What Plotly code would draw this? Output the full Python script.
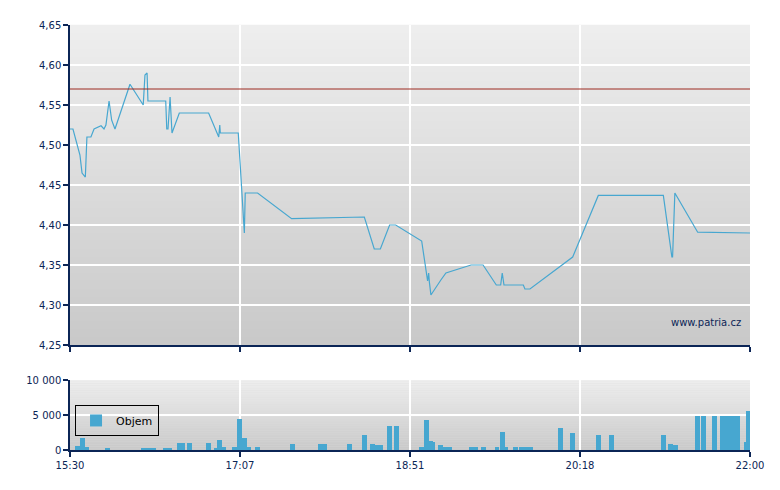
import plotly.graph_objects as go

# =========================
# DATA (minutes after 15:30)
# =========================
price_t = [0, 1.7, 5.7, 6.9, 8.8, 9.7, 12.0, 13.8, 17.8, 19.5, 20.6, 22.4, 23.9, 25.8,
           34.4, 42.0, 43.0, 44.2, 44.7, 54.9, 55.5, 56.2, 57.4, 58.5, 62.7, 79.5,
           85.3, 85.9, 86.2, 96.5, 100.0, 100.5, 107.6, 127.1, 168.8, 174.5, 178.0,
           183.3, 186.8, 201.7, 205.1, 205.7, 206.1, 207.0, 212.6, 215.6, 230.0,
           236.9, 244.5, 247.0, 247.9, 248.9, 260.0, 260.9, 263.8, 288.3, 303.0,
           340.3, 345.2, 345.6, 346.9, 360.0, 390.0]
price = [4.52, 4.52, 4.4875, 4.465, 4.46, 4.51, 4.51, 4.52, 4.524, 4.52, 4.525, 4.555,
         4.531, 4.52, 4.576, 4.55, 4.5875, 4.59, 4.555, 4.555, 4.52, 4.52, 4.56, 4.515,
         4.54, 4.54, 4.51, 4.525, 4.515, 4.515, 4.39, 4.44, 4.44, 4.408, 4.41, 4.37,
         4.37, 4.40, 4.40, 4.38, 4.33, 4.34, 4.329, 4.3125, 4.331, 4.34, 4.35, 4.35,
         4.325, 4.325, 4.34, 4.325, 4.325, 4.32, 4.32, 4.36, 4.437, 4.437, 4.36, 4.36,
         4.44, 4.391, 4.39]
prev_close = 4.57

vol_t = [4.5, 7.1, 9.6, 21.5, 42.2, 45.0, 47.9, 54.8, 57.1, 62.9, 64.4, 68.5, 79.4,
         84.0, 86.0, 88.0, 94.3, 97.2, 100.1, 102.1, 107.5, 127.6, 143.9, 145.7, 160.3,
         168.9, 173.5, 176.4, 178.1, 183.2, 187.2, 201.6, 204.5, 206.7, 207.8, 212.5,
         215.6, 217.4, 230.0, 232.3, 237.1, 244.9, 248.0, 250.0, 255.5, 258.9, 261.5,
         264.1, 281.3, 288.2, 303.1, 310.8, 340.4, 344.4, 347.2, 359.9, 363.3, 369.6,
         374.2, 377.1, 380.0, 382.8, 387.8, 389.3]
volume = [600, 1750, 450, 150, 300, 300, 300, 300, 300, 1000, 1000, 1000, 1000,
          300, 1450, 450, 450, 4450, 1750, 450, 450, 860, 860, 860, 860,
          2150, 860, 720, 720, 3450, 3450, 450, 4300, 1300, 1150, 720,
          450, 450, 450, 450, 450, 450, 2600, 450, 450, 450, 450,
          450, 3170, 2450, 2150, 2150, 2150, 860, 720, 4900, 4900, 4900,
          4900, 4900, 4900, 4900, 1150, 5600]

tick_pos = [0, 97.5, 195, 292.5, 390]
tick_labels = ["15:30", "17:07", "18:51", "20:18", "22:00"]

# =========================
# STYLE
# =========================
NAVY = "#0b2556"
BLUE = "#47a7d0"
FONT = dict(family="DejaVu Sans, Verdana, sans-serif", size=10, color=NAVY)

fig = go.Figure()

fig.add_trace(go.Scatter(
    x=price_t, y=price, mode="lines",
    line=dict(color=BLUE, width=1.2),
    xaxis="x", yaxis="y", showlegend=False
))

fig.add_trace(go.Bar(
    x=vol_t, y=volume, width=2.85,
    marker=dict(color=BLUE, line=dict(width=0)),
    name="Objem", xaxis="x2", yaxis="y2", showlegend=True
))

# gradient backgrounds (light top -> darker bottom)
shapes = []
n = 40
for xr, yr in [("x domain", "y domain"), ("x2 domain", "y2 domain")]:
    for i in range(n):
        c = int(0xef - (0xef - 0xc9) * (i + 0.5) / n)
        shapes.append(dict(
            type="rect", xref=xr, yref=yr, layer="below",
            x0=0, x1=1, y0=1 - (i + 1) / n, y1=1 - i / n + 0.001,
            line=dict(width=0), fillcolor="rgb(%d,%d,%d)" % (c, c, c)
        ))

# previous close line
shapes.append(dict(
    type="line", xref="x domain", yref="y", x0=0, x1=1,
    y0=prev_close, y1=prev_close, line=dict(color="#9c2a20", width=1)
))

axis_common = dict(
    showline=True, linecolor=NAVY, linewidth=1.5,
    ticks="outside", ticklen=5, tickcolor=NAVY, tickwidth=1.5,
    gridcolor="white", gridwidth=1.5, zeroline=False, tickfont=FONT,
)

# page is offset by the 8px body margin, so margins are shifted to match
fig.update_layout(
    width=780, height=490,
    margin=dict(l=62, r=38, t=17, b=48),
    paper_bgcolor="white", plot_bgcolor="#dddddd",
    separators=", ",
    font=FONT,
    shapes=shapes,
    xaxis=dict(domain=[0, 1], range=[0, 390], anchor="y",
               tickvals=tick_pos, ticktext=tick_labels, showticklabels=False,
               **axis_common),
    yaxis=dict(domain=[0.247, 1], range=[4.25, 4.65], anchor="x",
               dtick=0.05, tickformat=".2f", **axis_common),
    xaxis2=dict(domain=[0, 1], range=[0, 390], anchor="y2",
                tickvals=tick_pos, ticktext=tick_labels, **axis_common),
    yaxis2=dict(domain=[0, 0.1647], range=[0, 10000], anchor="x2",
                tickvals=[0, 5000, 10000], tickformat=",.0f", **axis_common),
    legend=dict(
        x=0.0074, y=0.106, xanchor="left", yanchor="top",
        bgcolor="rgba(0,0,0,0)", bordercolor="black", borderwidth=1,
        font=dict(family=FONT["family"], size=11, color="black"), itemwidth=30
    ),
    bargap=0,
    annotations=[dict(
        text="www.patria.cz", xref="paper", yref="paper",
        x=0.99, y=0.299, xanchor="right", yanchor="middle",
        showarrow=False, font=FONT
    )],
)

fig.write_html("out.html")
